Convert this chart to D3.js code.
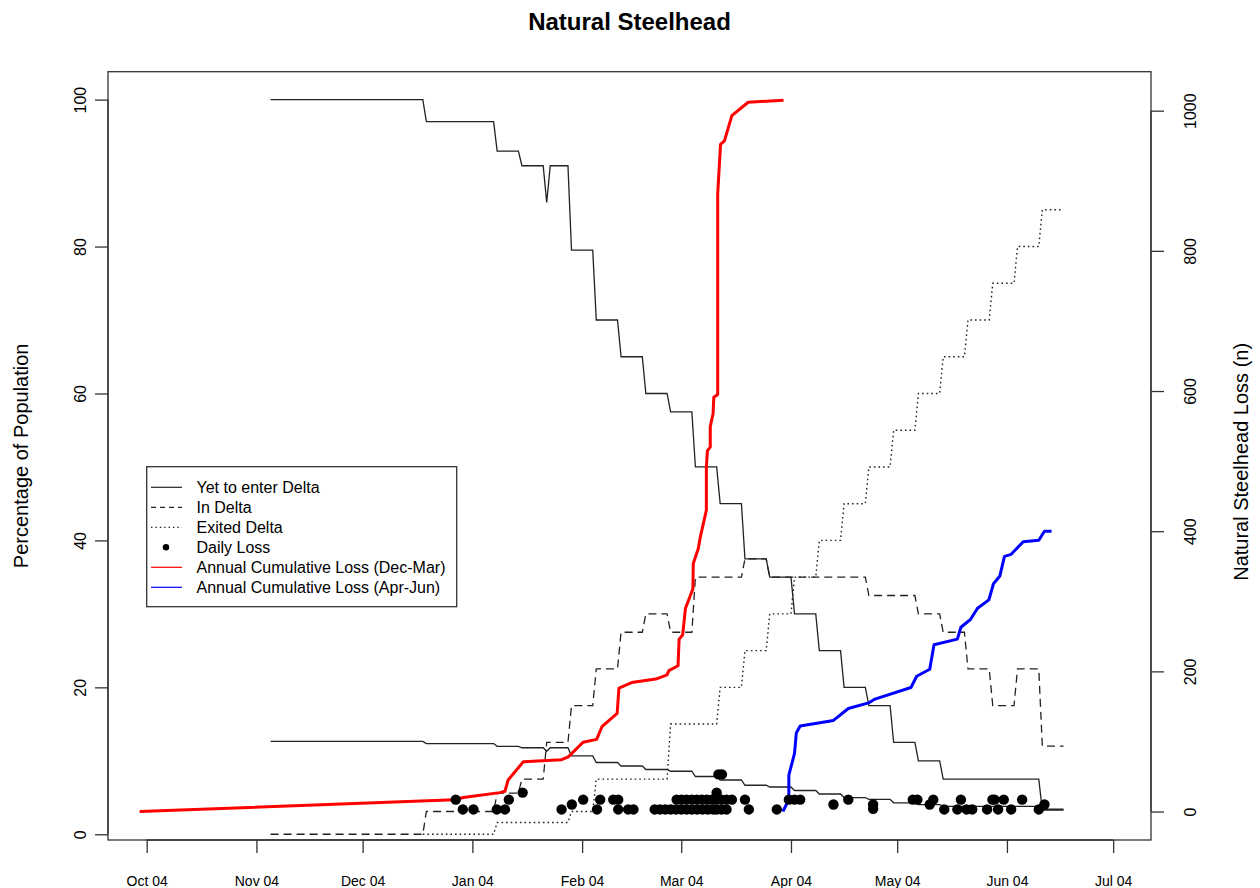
<!DOCTYPE html>
<html><head><meta charset="utf-8">
<script src="https://cdn.jsdelivr.net/npm/d3@7"></script>
<style>
body{margin:0;background:#fff}
text{font-family:"Liberation Sans",Arial,Helvetica,sans-serif;fill:#000}
</style>
</head><body>
<svg id="chart" width="1260" height="888"></svg>
<script>
// ---------------- data ----------------
const title = "Natural Steelhead";
const leftTitle = "Percentage of Population";
const rightTitle = "Natural Steelhead Loss (n)";
const seasonStart = "2004-10-01"; // day 0 of the season
const xTickDates = ["2004-10-01","2004-11-01","2004-12-01","2005-01-01","2005-02-01","2005-03-01","2005-04-01","2005-05-01","2005-06-01","2005-07-01"];
const xTickLabels = ["Oct 04","Nov 04","Dec 04","Jan 04","Feb 04","Mar 04","Apr 04","May 04","Jun 04","Jul 04"];
const pctTicks = [0,20,40,60,80,100];
const lossTicks = [0,200,400,600,800,1000];

// Yet to enter Delta (% of population), days since season start
const yetDays = [35,78,79,98,99,105,106,112,113,114,119,120,126,127,133,134,140,141,147,148,154,155,161,162,168,169,175,176,182,183,189,190,196,197,203,204,210,211,217,218,224,225,252,253,259];
const yetPct  = [100,100,97,97,93,93,91,91,86,91,91,79.5,79.5,70,70,65,65,60,60,57.5,57.5,50,50,45,45,37.5,37.5,35,35,30,30,25,25,20,20,17.5,17.5,12.5,12.5,10,10,7.5,7.5,3.3,3.3];

// In Delta (%)
const inDays = [35,78,79,98,99,105,106,112,113,119,120,126,127,133,134,140,141,147,148,154,155,168,169,175,176,203,204,217,218,224,225,231,232,238,239,245,246,252,253,259];
const inPct  = [0,0,3.1,3.1,5.6,5.6,7.5,7.5,12.5,12.5,17.5,17.5,22.5,22.5,27.5,27.5,30,30,27.5,27.5,35,35,37.5,37.5,35,35,32.5,32.5,30,30,27.5,27.5,22.5,22.5,17.5,17.5,22.5,22.5,12,12];

// Exited Delta (%)
const exitDays = [78,98,99,119,120,126,127,147,148,161,162,168,169,175,176,182,183,189,190,196,197,203,204,210,211,217,218,224,225,231,232,238,239,245,246,252,253,259];
const exitPct  = [0,0,1.6,1.6,3.1,3.1,7.5,7.5,15,15,20,20,25,25,30,30,35,35,40,40,45,45,50,50,55,55,60,60,65,65,70,70,75,75,80,80,85,85];

// Daily loss (n)
const lossDays = [87.3,89.3,92.3,98.9,101.2,102.3,106.2,117.2,120.1,123.3,127.2,128.1,131.8,133.2,133.2,136.0,137.5,
  143.5,145,146.5,148,149.5,151,152.5,154,155.5,157,158.5,160,161,162.4,163.8,
  149.7,151.1,152.5,154,155.4,156.8,158.2,159.6,161,162.4,163.8,165.3,
  161.0,161.5,162.5,169.0,170.1,178.0,
  181.4,183.0,184.6,194.0,198.2,205.2,205.2,216.4,217.7,221.2,222.2,225.3,229.0,230.0,231.6,233.2,237.4,238.9,239.5,240.5,242.1,244.2,247.3,252.0,253.6];
const lossN = [17,3,3,3,3,17,27,3,10,17,3,17,17,17,3,3,3,
  3,3,3,3,3,3,3,3,3,3,3,3,3,3,3,
  17,17,17,17,17,17,17,17,17,17,17,17,
  27,53,53,17,3,3,
  17,17,17,10,17,10,4,17,17,10,17,3,3,17,3,3,3,17,17,3,17,3,17,3,10];

// Annual cumulative loss Dec-Mar (n)
const cumDecDays = [-2,87,89.4,99.8,101.2,102.1,106.4,117.2,119.1,123.3,127.1,128.6,132.9,133.4,137,143.8,147,147.5,150.1,150.4,151.4,152.2,154.3,154.4,155.8,156.4,158.1,158.1,158.4,159.2,159.2,160,160.2,161.3,161.3,162.1,163.2,165.3,169.9,179.9];
const cumDecN    = [0,16.7,20,27,29,45,71,74,78,99,103,121,140,176,184,189,195,201,208,246,252,290,318,354,375,392,430,492,515,520,549,568,591,595,881,952,957,993,1012,1015];

// Annual cumulative loss Apr-Jun (n)
const cumAprDays = [179.7,181.4,181.4,183,183.5,184.6,194,198.2,203.9,205.5,215.9,217.5,221.2,222.4,229,230,232.7,234.7,237.9,239.2,241,242.3,244.2,247.6,252,253.6,255.6];
const cumAprN    = [0,17,52,83,112,122,130,147,155,160,177,193,203,238,246,263,274,290,302,325,336,364,367,385,387,400,400];

const legendLabels = ["Yet to enter Delta","In Delta","Exited Delta","Daily Loss","Annual Cumulative Loss (Dec-Mar)","Annual Cumulative Loss (Apr-Jun)"];

// ---------------- drawing ----------------
const svg = d3.select("#chart");
const L = 108, R = 1151, T = 71.7, B = 840;
const parse = d3.utcParse("%Y-%m-%d");
const t0 = parse(seasonStart).getTime();
const dayToDate = d => new Date(t0 + d * 864e5);

const x = d3.scaleUtc().domain([dayToDate(-10.93), dayToDate(283.7)]).range([L, R]);
const yL = d3.scaleLinear().domain([-0.78, 103.8]).range([B, T]);
const yR = d3.scaleLinear().domain([-40.6, 1055.6]).range([B, T]);

const zip = (a, b) => a.map((d, i) => [d, b[i]]);
const lineL = d3.line().x(d => x(dayToDate(d[0]))).y(d => yL(d[1]));
const lineR = d3.line().x(d => x(dayToDate(d[0]))).y(d => yR(d[1]));

const g = svg.append("g");

// series on left axis
g.append("path").attr("d", lineL(zip(yetDays, yetPct))).attr("fill","none").attr("stroke","#222").attr("stroke-width",1.3);
g.append("path").attr("d", lineL(zip(inDays, inPct))).attr("fill","none").attr("stroke","#222").attr("stroke-width",1.3).attr("stroke-dasharray","8,5");
g.append("path").attr("d", lineL(zip(exitDays, exitPct))).attr("fill","none").attr("stroke","#222").attr("stroke-width",1.4).attr("stroke-dasharray","1.6,3");
// same "yet to enter" series re-drawn against the loss axis
g.append("path").attr("d", lineR(zip(yetDays, yetPct))).attr("fill","none").attr("stroke","#222").attr("stroke-width",1.3);

// cumulative loss lines
g.append("path").attr("d", lineR(zip(cumDecDays, cumDecN))).attr("fill","none").attr("stroke","#ff0000").attr("stroke-width",3).attr("stroke-linejoin","round");
g.append("path").attr("d", lineR(zip(cumAprDays, cumAprN))).attr("fill","none").attr("stroke","#0000ff").attr("stroke-width",3).attr("stroke-linejoin","round");

// daily loss points
g.selectAll("circle.loss").data(zip(lossDays, lossN)).enter().append("circle")
  .attr("class","loss").attr("cx", d => x(dayToDate(d[0]))).attr("cy", d => yR(d[1])).attr("r",5.2).attr("fill","#000");

// box
svg.append("rect").attr("x",L).attr("y",T).attr("width",R-L).attr("height",B-T).attr("fill","none").attr("stroke","#333").attr("stroke-width",1.3);

const fontFam = "Liberation Sans, Arial, sans-serif";

// x axis
const xTicks = xTickDates.map(parse);
const xAxis = d3.axisBottom(x).tickValues(xTicks).tickSize(13).tickFormat((d,i) => xTickLabels[i]);
const gx = svg.append("g").attr("transform",`translate(0,${B})`).call(xAxis);
gx.select(".domain").attr("d", `M${x(xTicks[0])},0H${x(xTicks[xTicks.length-1])}`).attr("stroke","#333").attr("stroke-width",1.3);
gx.selectAll(".tick line").attr("stroke","#333").attr("stroke-width",1.3);
gx.selectAll(".tick text").attr("y",null).attr("dy",null).attr("transform","translate(0,46)").style("font-size","14px").style("font-family",fontFam).attr("fill","#000");

// left axis
const gl = svg.append("g").attr("transform",`translate(${L},0)`).call(d3.axisLeft(yL).tickValues(pctTicks).tickSize(13).tickFormat(d3.format("d")));
gl.select(".domain").attr("d", `M0,${yL(0)}V${yL(100)}`).attr("stroke","#333").attr("stroke-width",1.3);
gl.selectAll(".tick line").attr("stroke","#333").attr("stroke-width",1.3);
gl.selectAll(".tick text").attr("x",null).attr("dy",null).attr("text-anchor","middle")
  .attr("transform","translate(-22,0) rotate(-90)").style("font-size","16px").style("font-family",fontFam).attr("fill","#000");

// right axis
const gr = svg.append("g").attr("transform",`translate(${R},0)`).call(d3.axisRight(yR).tickValues(lossTicks).tickSize(13).tickFormat(d3.format("d")));
gr.select(".domain").attr("d", `M0,${yR(0)}V${yR(1000)}`).attr("stroke","#333").attr("stroke-width",1.3);
gr.selectAll(".tick line").attr("stroke","#333").attr("stroke-width",1.3);
gr.selectAll(".tick text").attr("x",null).attr("dy",null).attr("text-anchor","middle")
  .attr("transform","translate(45,0) rotate(-90)").style("font-size","16px").style("font-family",fontFam).attr("fill","#000");

// titles
svg.append("text").attr("x",(L+R)/2).attr("y",30).attr("text-anchor","middle").style("font-size","24px").style("font-weight","bold").text(title);
svg.append("text").attr("transform",`translate(28,${(T+B)/2}) rotate(-90)`).attr("text-anchor","middle").style("font-size","20px").text(leftTitle);
svg.append("text").attr("transform",`translate(1248,${(T+B)/2 + 6}) rotate(-90)`).attr("text-anchor","middle").style("font-size","20px").text(rightTitle);

// legend
const lg = svg.append("g");
lg.append("rect").attr("x",146.7).attr("y",466.7).attr("width",310).attr("height",140).attr("fill","#fff").attr("stroke","#333").attr("stroke-width",1.3);
const styles = [
  {type:"line", color:"#222", dash:null},
  {type:"line", color:"#222", dash:"5,4"},
  {type:"line", color:"#222", dash:"1.4,3"},
  {type:"dot", color:"#000"},
  {type:"line", color:"#ff0000", dash:null},
  {type:"line", color:"#0000ff", dash:null}
];
legendLabels.forEach((lab, i) => {
  const cy = 487.3 + i * 20;
  const s = styles[i];
  if (s.type === "line") {
    lg.append("line").attr("x1",151).attr("x2",182).attr("y1",cy).attr("y2",cy).attr("stroke",s.color).attr("stroke-width",1.2).attr("stroke-dasharray",s.dash);
  } else {
    lg.append("circle").attr("cx",166).attr("cy",cy).attr("r",3.2).attr("fill",s.color);
  }
  lg.append("text").attr("x",196.5).attr("y",cy+5.8).style("font-size","16px").text(lab);
});
</script>
</body></html>
